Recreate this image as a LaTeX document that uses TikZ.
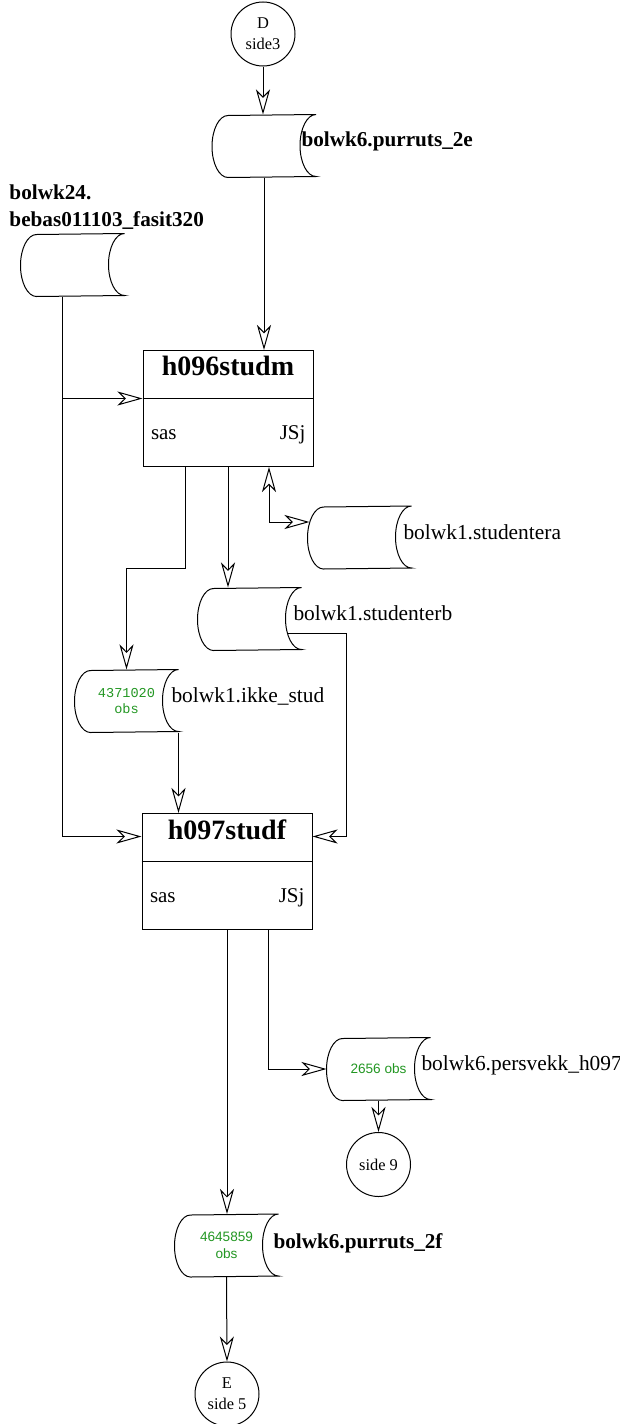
\documentclass[tikz,border=0pt]{standalone}
\usepackage{fontspec}
\setmainfont{Liberation Serif}
\newfontfamily\obsmono{Liberation Mono}
\newfontfamily\obssans{Liberation Sans}
\usetikzlibrary{arrows.meta}
\definecolor{obsgreen}{RGB}{34,150,34}

\begin{document}
\begin{tikzpicture}[x=0.5pt, y=-0.5pt, line width=0.5pt,
	arr/.style={-{Stealth[open,length=12.5pt,width=7pt,inset=3.5pt]}},
	arrboth/.style={{Stealth[open,length=12.5pt,width=7pt,inset=3.5pt]}-{Stealth[open,length=12.5pt,width=7pt,inset=3.5pt]}},
	conn/.style={draw, circle, minimum size=32pt, inner sep=0pt, align=center, font=\fontsize{8.2}{10.5}\selectfont},
	dset/.style={minimum width=51.5pt, minimum height=31pt, inner sep=0pt, align=center, text=obsgreen},
	sasbox/.style={draw, minimum width=85pt, minimum height=58pt, inner sep=0pt},
	ptitle/.style={anchor=base, inner sep=0pt, font=\fontsize{14}{16}\selectfont\bfseries},
	lbl/.style={anchor=base west, inner sep=0pt, font=\fontsize{10.7}{13.3}\selectfont},
	blbl/.style={lbl, font=\fontsize{10.6}{13.3}\selectfont\bfseries},
	saslbl/.style={anchor=base west, inner sep=0pt, font=\fontsize{10.5}{12}\selectfont},
	jslbl/.style={anchor=base east, inner sep=0pt, font=\fontsize{10.5}{12}\selectfont}]
\useasboundingbox (0,0) rectangle (620,1424);

		%Sirkler
		\node[conn] (circD) at (263,34) {D\\side3};
		\node[conn] (side9) at (378.5,1164.5) {side 9};
		\node[conn] (circE) at (227,1394) {E\\side 5};

		%Datasett
		\node[dset] (pur2e) at (264,146) {};
		\node[dset] (bebas) at (72.5,265) {};
		\node[dset] (stera) at (359.5,537.5) {};
		\node[dset] (sterb) at (249.5,619) {};
		\node[dset, font=\obsmono\fontsize{6.8}{8}\selectfont] (ikke) at (126.5,701) {4371020\\obs};
		\node[dset, font=\obssans\fontsize{6.8}{8}\selectfont] (pvekk) at (378.5,1069) {2656 obs};
		\node[dset, font=\obssans\fontsize{6.8}{8.6}\selectfont] (pur2f) at (226.5,1245.5) {4645859\\obs};

		\foreach \ds in {pur2e,bebas,stera,sterb,ikke,pvekk,pur2f}
			\draw (\ds.north east) arc[start angle=90, end angle=270, x radius=8pt, y radius=15.5pt]
				-- ([xshift=8pt]\ds.south west) arc[start angle=270, end angle=90, x radius=8pt, y radius=15.5pt] -- cycle;

		%Navn
		\node[blbl] (pur2e-l) at (301,146) {bolwk6.purruts\_2e};
		\node[blbl, align=left] (bebas-l) at (9,226) {bolwk24.\\bebas011103\_fasit320};
		\node[lbl] (stera-l) at (403,539) {bolwk1.studentera};
		\node[lbl] (sterb-l) at (293,620) {bolwk1.studenterb};
		\node[lbl] (ikke-l) at (171,702) {bolwk1.ikke\_stud};
		\node[lbl] (pvekk-l) at (421,1070) {bolwk6.persvekk\_h097};
		\node[blbl] (pur2f-l) at (273,1248) {bolwk6.purruts\_2f};

		%Programmer
		\node[sasbox] (studm) at (228,408.5) {};
		\node[ptitle] (studm-t) at ([yshift=-12.5pt]studm.north) {h096studm};
		\node[saslbl] (studm-sas) at ([xshift=4pt,yshift=14pt]studm.south west) {sas};
		\node[jslbl] (studm-js) at ([xshift=-3.75pt,yshift=14pt]studm.south east) {JSj};
		\coordinate (studm-dw) at ([yshift=-24.25pt]studm.north west);
		\draw (studm-dw) -- (studm-dw -| studm.east);

		\node[sasbox] (studf) at (227,871.5) {};
		\node[ptitle] (studf-t) at ([yshift=-13pt]studf.north) {h097studf};
		\node[saslbl] (studf-sas) at ([xshift=4pt,yshift=14pt]studf.south west) {sas};
		\node[jslbl] (studf-js) at ([xshift=-3.75pt,yshift=14pt]studf.south east) {JSj};
		\coordinate (studf-dw) at ([yshift=-24.25pt]studf.north west);
		\draw (studf-dw) -- (studf-dw -| studf.east);
		\coordinate (studf-wi) at ([yshift=-11.75pt]studf.north west);
		\coordinate (studf-ei) at ([yshift=-11.75pt]studf.north east);

		%Piler
		\draw[arr] (circD.south) -- (circD.south |- pur2e.north);
		\draw[arr] (pur2e.south) -- (pur2e.south |- studm.north);

		\coordinate (bebout) at ([xshift=-5.25pt]bebas.south);
		\draw[arr] (bebout) |- (studm-dw);
		\draw[arr] (bebout) |- (studf-wi);

		\draw[arr] ([xshift=-21.5pt]studm.south) -- ++(0,101) -| (ikke.north);
		\draw[arr] (studm.south) -- (studm.south |- sterb.north);
		\coordinate (sterain) at ([xshift=1pt,yshift=7.75pt]stera.west);
		\draw[arrboth] ([xshift=20.5pt]studm.south) |- (sterain);

		\draw[arr] (ikke.south east) -- (ikke.south east |- studf.north);
		\coordinate (sterbout) at ([xshift=-7pt,yshift=-7pt]sterb.east);
		\draw[arr] (sterbout) -| ([xshift=17pt]studf-ei) -- (studf-ei);

		\draw[arr] (studf.south) -- (studf.south |- pur2f.north);
		\draw[arr] ([xshift=20.5pt]studf.south) |- (pvekk.west);
		\draw[arr] (pvekk.south) -- (side9.north);
		\draw[arr] (pur2f.south) -- (circE.north);
\end{tikzpicture}
\end{document}
